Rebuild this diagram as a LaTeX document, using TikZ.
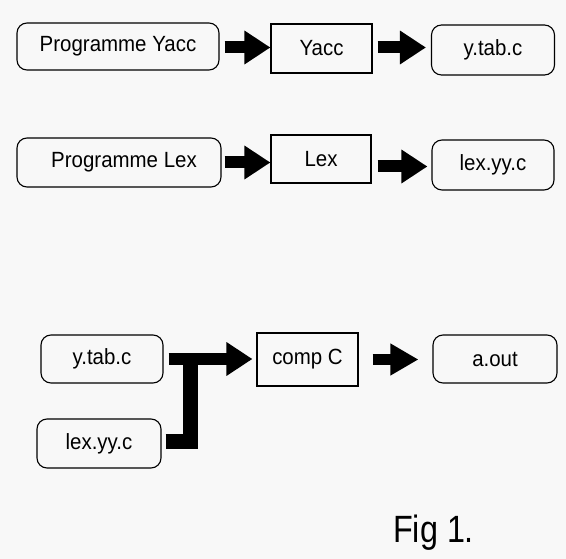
\documentclass[tikz,border=0pt]{standalone}
\usepackage{fontspec}
\setmainfont{Liberation Sans}[FakeStretch=0.93]
\newfontfamily\figfont{Liberation Sans}[FakeStretch=0.85]
\usetikzlibrary{arrows.meta}
\definecolor{bgcol}{RGB}{248,248,248}
\tikzset{
  rbox/.style={draw, line width=1.1bp, rounded corners=10bp, inner sep=0pt,
    font=\fontsize{22bp}{24bp}\selectfont},
  sbox/.style={draw, line width=1.1bp, inner sep=0pt,
    font=\fontsize{22bp}{24bp}\selectfont},
  blk/.style={line width=12bp, -{Triangle[length=26bp,width=32bp]}},
  blkc/.style={line width=11bp, -{Triangle[length=28bp,width=30bp]}},
  bar/.style={line width=15bp},
}
\begin{document}
\begin{tikzpicture}[x=1bp,y=-1bp]
\fill[bgcol] (0,0) rectangle (566,559);
\useasboundingbox (0,0) rectangle (566,559);
% row 1
\node[rbox, minimum width=202bp, minimum height=47bp] (py) at (118,46.5) {Programme Yacc};
\node[sbox, minimum width=101bp, minimum height=49bp] (yacc) at (321.5,48.5) {Yacc};
\node[rbox, minimum width=123bp, minimum height=50bp] (yt1) at (493,50) {y.tab.c};
% row 2
\node[rbox, minimum width=204bp, minimum height=49bp] (pl) at (119,162.5) {\hspace*{10bp}Programme Lex};
\node[sbox, minimum width=100bp, minimum height=48bp] (lex) at (321,159) {Lex};
\node[rbox, minimum width=122bp, minimum height=50bp] (ly1) at (493,165) {lex.yy.c};
% row 3
\node[rbox, minimum width=122bp, minimum height=48bp] (yt2) at (102,359) {y.tab.c};
\node[rbox, minimum width=124bp, minimum height=49bp] (ly2) at (99,443.5) {lex.yy.c};
\node[sbox, minimum width=101bp, minimum height=53bp] (cc) at (307.5,359.5) {comp C};
\node[rbox, minimum width=124bp, minimum height=48bp] (ao) at (495,359) {a.out};
% arrows row 1
\draw[blk] ([xshift=5bp,yshift=-1bp]py.east) -- ([yshift=-1bp]py.east -| yacc.west);
\draw[blk] ([xshift=5bp,yshift=1bp]yacc.east) -- ([xshift=-5bp,yshift=1bp]yacc.east -| yt1.west);
% arrows row 2
\draw[blk] ([xshift=3bp]pl.east) -- (pl.east -| lex.west);
\draw[blk] ([xshift=6bp,yshift=-7.5bp]lex.east) -- ([xshift=-4bp,yshift=-7.5bp]lex.east -| ly1.west);
% row 3
\coordinate (j) at (190,359);
\draw[bar] ([xshift=4bp,yshift=2bp]ly2.east) -| (j);
\draw[blk] ([xshift=5bp]yt2.east) -- ([xshift=-4bp]yt2.east -| cc.west);
\draw[blkc] ([xshift=14bp]cc.east) -- ([xshift=-14bp]cc.east -| ao.west);
% caption
\node[anchor=base west, inner sep=0pt, font=\figfont\fontsize{38bp}{40bp}\selectfont] (fig) at (393,542) {Fig 1.};
\end{tikzpicture}
\end{document}
